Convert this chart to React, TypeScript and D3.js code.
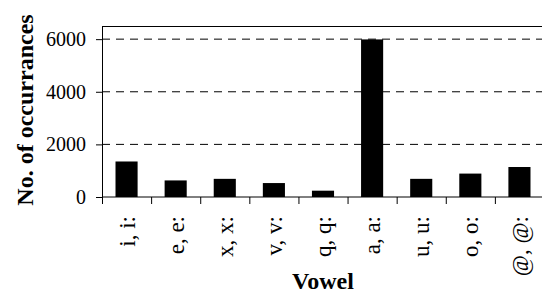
import * as d3 from 'd3';
import { useEffect, useRef } from 'react';

const vowels = ["i, i:", "e, e:", "x, x:", "v, v:", "q, q:", "a, a:", "u, u:", "o, o:", "@, @:"];
const counts = [1350, 630, 690, 530, 240, 5990, 690, 890, 1140];
const yTicks = [0, 2000, 4000, 6000];

const App = () => {
    const ref = useRef<SVGSVGElement>(null);
    useEffect(() => {
        const margin = { top: 26, right: -2, bottom: 99, left: 102 },
            width = 542 - margin.left - margin.right,
            height = 296 - margin.top - margin.bottom;
        const root = d3.select(ref.current);
        root.selectAll("*").remove();
        const svg = root.append("g")
            .attr("transform", "translate(" + margin.left + "," + margin.top + ")");
        const x: any = d3.scaleBand().domain(vowels).range([0, width]).paddingInner(0.55).paddingOuter(0.275);
        const xt: any = d3.scaleBand().domain(vowels).range([0, width]);
        const y = d3.scaleLinear().domain([0, 6500]).range([height, 0]);
        const font = "'Liberation Serif', 'Times New Roman', serif";

        // grid
        svg.selectAll(".grid")
            .data(yTicks.filter(d => d > 0))
            .enter().append("line")
            .attr("x1", 0).attr("x2", width)
            .attr("y1", d => y(d)).attr("y2", d => y(d))
            .attr("stroke", "#000").attr("stroke-dasharray", "8,6");
        // plot border top
        svg.append("line").attr("x1", 0).attr("x2", width).attr("y1", 0.5).attr("y2", 0.5).attr("stroke", "#000");

        svg.selectAll(".bar")
            .data(counts)
            .enter().append("rect")
            .attr("x", (_d, i) => x(vowels[i]))
            .attr("width", x.bandwidth())
            .attr("y", d => y(d))
            .attr("height", d => height - y(d))
            .attr("fill", "#000");

        // y axis
        const ya = svg.append("g").call(d3.axisLeft(y).tickValues(yTicks).tickSize(6).tickPadding(10).tickFormat(d3.format("d")));
        ya.select(".domain").attr("d", "M0.5,0V" + height);
        ya.selectAll("text").style("font-family", font).style("font-size", "20px").attr("fill", "#000");

        // x axis
        const xa = svg.append("g").attr("transform", "translate(0," + height + ")");
        xa.append("line").attr("x1", 0).attr("x2", width).attr("stroke", "#000");
        xa.selectAll(".tk")
            .data(vowels)
            .enter().append("line")
            .attr("x1", d => xt(d) + 0.5).attr("x2", d => xt(d) + 0.5)
            .attr("y1", 0).attr("y2", 7).attr("stroke", "#000");
        xa.selectAll(".lb")
            .data(vowels)
            .enter().append("text")
            .attr("transform", d => "translate(" + (xt(d) + xt.bandwidth() / 2) + ",19)rotate(-90)")
            .attr("text-anchor", "end")
            .attr("dy", "0.35em")
            .style("font-family", font).style("font-size", "23px")
            .text(d => d);

        svg.append("text")
            .attr("text-anchor", "middle")
            .attr("transform", "translate(-69,84)rotate(-90)")
            .style("font-family", font).style("font-size", "24px").style("font-weight", "bold")
            .text("No. of occurrances");
        svg.append("text")
            .attr("text-anchor", "middle")
            .attr("x", width / 2).attr("y", height + 92)
            .style("font-family", font).style("font-size", "24px").style("font-weight", "bold")
            .text("Vowel");
    }, []);
    return (
        <svg ref={ref} width={542} height={296} style={{ position: "absolute", left: 0, top: 0, background: "#fff" }}></svg>
    );
};
export default App;
